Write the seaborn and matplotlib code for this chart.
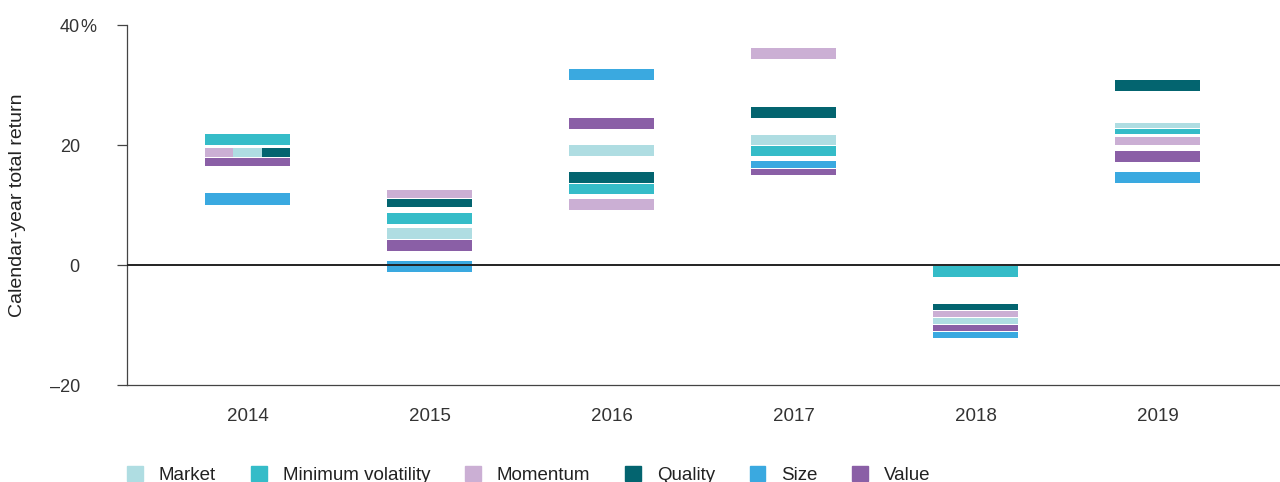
import numpy as np
import pandas as pd
import matplotlib
matplotlib.use("Agg")
import matplotlib.pyplot as plt
import matplotlib.patches as mpatches
import seaborn as sns

# Datos (rentabilidad anual, %)
years = ["2014", "2015", "2016", "2017", "2018", "2019"]
factors = ["Market", "Minimum volatility", "Momentum", "Quality", "Size", "Value"]
market = [18.75, 5.2, 19.1, 20.8, -9.3, 23.2]
min_vol = [20.9, 7.8, 12.7, 19.0, -1.1, 22.2]
momentum = [18.8, 11.9, 10.05, 35.3, -8.15, 20.7]
quality = [18.7, 10.4, 14.6, 25.4, -7.0, 29.9]
size = [11.0, -0.3, 31.7, 16.8, -11.6, 14.6]
value = [17.2, 3.25, 23.6, 15.5, -10.45, 18.1]

colors = ["#afdde2", "#35bcc8", "#cbafd4", "#03646f", "#3aa9e0", "#8a5fa6"]

df = pd.DataFrame({"year": np.repeat(years, 6),
                   "factor": factors * 6,
                   "ret": np.array([market, min_vol, momentum, quality, size, value]).T.ravel()})

sns.set_theme(style="white")
plt.rcParams["font.family"] = ["Liberation Sans", "DejaVu Sans"]
palette = dict(zip(factors, sns.color_palette(colors)))

fig = plt.figure(figsize=(12.8, 4.82), dpi=100)
ax = fig.add_axes([127 / 1280, 97 / 482, 1153 / 1280, 360 / 482])

bar_w = 0.467
max_half = 0.92
tie = 0.15
for i, yr in enumerate(years):
    sub = df[df.year == yr].sort_values("ret", ascending=False).reset_index(drop=True)
    # agrupar valores casi iguales en una misma fila
    rows = []
    for _, r in sub.iterrows():
        if rows and abs(rows[-1][0] - r.ret) < tie:
            rows[-1][1].append(r)
        else:
            rows.append([r.ret, [r]])
    centers = [np.mean([m.ret for m in g]) for _, g in rows]
    for k, (_, group) in enumerate(rows):
        gaps = []
        if k > 0:
            gaps.append(centers[k - 1] - centers[k])
        if k < len(rows) - 1:
            gaps.append(centers[k] - centers[k + 1])
        half = min(max_half, min(gaps) / 2 - 0.08) if gaps else max_half
        n = len(group)
        w = bar_w / n
        for j, m in enumerate(group):
            x = i - bar_w / 2 + w * (j + 0.5)
            ax.bar(x, 2 * half, bottom=centers[k] - half, width=w,
                   color=palette[m.factor], linewidth=0)

ax.set_xlim(-0.662, 5.673)
ax.set_ylim(-20, 40)
ax.axhline(0, color="#222222", lw=1.4, zorder=3)

for s in ["top", "right"]:
    ax.spines[s].set_visible(False)
ax.spines["left"].set_color("#444444")
ax.spines["left"].set_linewidth(0.9)
ax.spines["bottom"].set_color("#444444")
ax.spines["bottom"].set_linewidth(0.9)

ax.set_yticks([-20, 0, 20, 40])
ax.set_yticklabels(["\u201320", "0", "20", "40"])
ax.tick_params(axis="y", direction="out", length=7.5, width=0.9, color="#444444",
               pad=26.5, labelsize=13, labelcolor="#333333", left=True)
ax.annotate("%", xy=(0, 40), xycoords=("axes fraction", "data"),
            xytext=(-47, 0), textcoords="offset pixels", ha="left",
            va="center_baseline", fontsize=13, color="#333333")

ax.set_xticks(range(len(years)))
ax.set_xticklabels(years)
ax.tick_params(axis="x", length=0, pad=16.5, labelsize=13.5, labelcolor="#333333")

ax.set_ylabel("Calendar-year total return", fontsize=14, color="#222222")
ax.yaxis.set_label_coords(-0.0876, 0.5)

handles = [mpatches.Patch(color=palette[f], label=f) for f in factors]
fig.legend(handles=handles, loc="center left", bbox_to_anchor=(127 / 1280, 0.0145),
           ncol=6, frameon=False, fontsize=13.5, handlelength=0.85, handleheight=0.9,
           handletextpad=0.85, columnspacing=1.85, borderpad=0, borderaxespad=0,
           labelcolor="#222222")

plt.savefig("out.png", dpi=100)
